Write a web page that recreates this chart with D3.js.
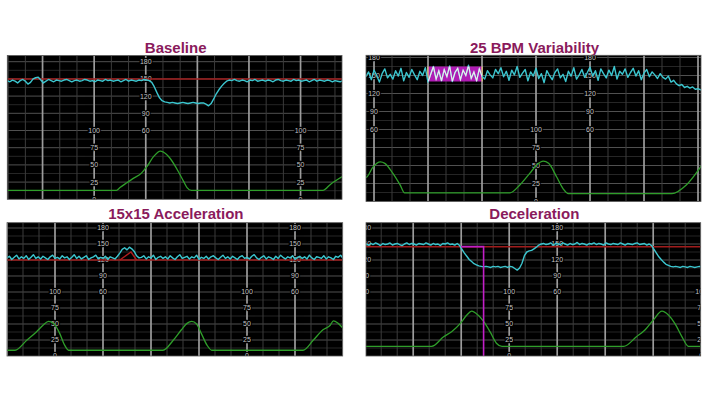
<!DOCTYPE html>
<meta charset="utf-8">
<style>
body { margin: 0; background: #fff; }
.title { font: bold 15px "Liberation Sans", Arial, sans-serif; fill: #8a1a5c; text-anchor: middle; }
.lbl { font: 7px "Liberation Sans", Arial, sans-serif; fill: #c4c4c4; text-anchor: middle;
       paint-order: stroke; stroke: #000; stroke-width: 2.5px; }
.lbls { opacity: 0.99; }
</style>
<svg width="708" height="398"></svg>
<script src="https://d3js.org/d3.v7.min.js"></script>
<script>
// FHR traces are sampled every 3 seconds from each panel's start time
var sampleStep = 3;
var fhrTicks = [60, 90, 120, 150, 180],
    uaTicks = [0, 25, 50, 75, 100];

// Baseline
var fhr1Start = 19;
var fhr1 = [147,145,148,146,143,147,149,146,141,144,150,152,153,148,143,146,149,147,145,148,
            147,146,148,149,147,145,147,148,146,147,149,148,146,147,145,148,147,146,149,147,
            148,146,147,148,145,147,149,146,148,147,146,148,147,149,148,147,
            144,136,126,117,112,110,109,108,109,108,107,108,109,108,107,108,109,108,107,108,
            108,106,103,107,115,124,131,137,142,146,148,147,
            149,147,146,148,147,145,148,147,149,146,147,148,146,148,147,145,148,149,147,146,
            148,147,146,149,147,148,146,147,148,145,147,149,146,148,147,146,148,147,145,147,
            146,145,147];
var ua1Time = [19, 60, 100, 146, 150, 158, 165, 175, 181, 189, 197, 200, 208, 218, 224, 228, 233, 240, 300, 386, 395, 410];
var ua1 =     [13, 13, 13,  13,  17,  24,  30,  38,  47,  62,  70,  69,  60,  40,  26,  17,  13,  13,  13,  13,  22,  34];
var baseline1 = 150;

// 25 BPM Variability
var fhr2Start = 51;
var fhr2 = [148,156,143,159,150,139,153,161,146,152,
            144,158,149,162,141,155,147,160,151,143,
            157,150,163,139,152,165,144,158,141,160,
            148,166,140,155,162,143,159,150,167,145,
            156,141,161,149,144,158,151,146,160,153,
            163,148,157,142,159,151,165,147,154,160,
            141,156,149,162,145,153,138,158,150,143,
            155,161,146,152,140,157,149,163,144,151,
            160,147,155,164,149,158,142,161,153,146,
            159,150,165,144,157,152,161,147,155,162,
            149,158,143,154,160,148,156,151,145,153,
            147,144,149,139,142,136,133,135,130,132,
            129,131,127,128,126,129];
var ua2Time = [51, 52, 59, 67, 72, 81, 89, 94, 150, 211, 222, 233, 241, 248, 254, 263, 270, 276, 330, 391, 407, 424];
var ua2 =     [33, 34, 48, 55, 53, 39, 23, 12, 12,  12,  23,  39,  51,  56,  53,  34,  18,  11,  11,  11,  23,  50];
var varBand = [140, 165], varTime = [120, 180];

// 15x15 Acceleration
var fhr3Start = 0;
var fhr3 = [124,127,121,125,129,122,126,123,128,121,125,130,123,126,122,127,124,121,126,129,
            123,125,122,128,124,126,121,125,130,123,127,122,125,128,121,124,126,129,122,125,
            123,127,121,126,124,122,
            127,133,140,143,139,144,141,136,128,124,
            125,128,122,126,124,129,121,125,127,123,126,122,128,124,121,126,130,123,125,127,
            122,126,124,129,121,125,123,127,122,126,128,124,121,125,129,123,126,122,127,124,
            121,126,128,123,125,122,127,130,124,121,125,128,122,126,124,121,127,123,129,125,
            122,126,124,128,121,125,127,123,126,122,129,124,121,126,125,123,128,122,126,124,
            121,127,125,129,123];
var ua3Time = [0, 10, 25, 37, 45, 52, 58, 66, 72, 77, 140, 195, 208, 218, 225, 231, 237, 243, 250, 256, 320, 370, 383, 395, 404, 408, 414, 421];
var ua3 =     [9, 9,  25, 38, 48, 54, 51, 35, 17, 9,  9,   9,   25,  41,  51,  54,  50,  35,  17,  9,   9,   9,   25,  41,  48,  55,  51,  42];
var baseline3 = 120;
var accelTime = [141, 155, 162], accelBpm = [120, 135, 120];

// Deceleration
var fhr4Start = 1;
var fhr4 = [150,148,151,149,152,150,147,151,149,150,152,148,150,151,149,147,150,152,149,151,
            150,148,151,150,149,152,150,148,151,149,150,147,151,150,152,149,150,148,151,
            147,140,133,127,121,117,113,111,109,108,107,108,107,106,108,107,108,106,107,108,
            106,108,107,104,101,105,114,128,135,137,138,141,144,148,150,
            151,149,150,152,148,151,150,149,152,150,148,151,149,150,153,149,151,150,148,151,
            150,152,149,151,150,148,152,150,149,151,150,149,152,150,148,151,150,149,151,152,
            149,150,151,148,150,
            147,140,133,126,121,116,112,110,108,107,108,107,106,108,107,106,108,107,106,107,
            108,107];
var ua4Time = [1, 50, 83, 98, 108, 119, 127, 133, 141, 148, 156, 164, 171, 250, 323, 339, 350, 360, 371, 379, 387, 396, 404, 421];
var ua4 =     [15, 15, 15, 30, 38, 51, 64, 70, 64, 54, 38, 20, 15, 15, 15, 30, 41, 56, 70, 64, 51, 30, 15, 15];
var baseline4 = 145;
var decelMarkTime = [120, 148], decelMarkBpm = 145;

// panel placement on the page
var panels = [
  {title: "Baseline", x: 7.3, y: 55.5, w: 334.7, h: 143.8, t0: 19, pps: 0.86, titleY: 52.5,
   upLbl: [180], loLbl: [120, 360], fhr: fhr1, fhrStart: fhr1Start, uaT: ua1Time, ua: ua1, base: baseline1},
  {title: "25 BPM Variability", x: 366, y: 55.3, w: 335, h: 146.2, t0: 51.1, pps: 0.9, titleY: 52.5,
   upLbl: [60, 300], loLbl: [0, 240], fhr: fhr2, fhrStart: fhr2Start, uaT: ua2Time, ua: ua2, band: true},
  {title: "15x15 Acceleration", x: 7, y: 222.7, w: 335.7, h: 133.3, t0: 0, pps: 0.8, titleY: 219.3,
   upLbl: [120, 360], loLbl: [60, 300], fhr: fhr3, fhrStart: fhr3Start, uaT: ua3Time, ua: ua3, base: baseline3, accel: true},
  {title: "Deceleration", x: 366, y: 222.7, w: 334.7, h: 133.3, t0: 1, pps: 0.8, titleY: 219.3,
   upLbl: [0, 240], loLbl: [180, 420], fhr: fhr4, fhrStart: fhr4Start, uaT: ua4Time, ua: ua4, base: baseline4, decel: true}
];

var svg = d3.select("svg");
var defs = svg.append("defs");

panels.forEach(function(p, i) {
  var x = d3.scaleLinear().domain([p.t0, p.t0 + p.w / p.pps]).range([0, p.w]),
      u = p.pps * 20,   // one grid unit = 20 s = 30 bpm = 25 units
      yF = d3.scaleLinear().domain([60, 180]).range([p.h - 4 * u, p.h - 8 * u]),
      yU = d3.scaleLinear().domain([0, 100]).range([p.h, p.h - 4 * u]);

  svg.append("text").attr("class", "title")
      .attr("x", p.x + p.w / 2 + 1).attr("y", p.titleY).text(p.title);

  defs.append("clipPath").attr("id", "clip" + i)
    .append("rect").attr("width", p.w).attr("height", p.h);

  var g = svg.append("g").attr("transform", "translate(" + p.x + "," + p.y + ")");
  g.append("rect").attr("width", p.w).attr("height", p.h).attr("fill", "#000");

  var inner = g.append("g").attr("clip-path", "url(#clip" + i + ")");

  // horizontal grid, every half unit
  inner.append("g").selectAll("line")
    .data(d3.range(12.5, yU.invert(0), 12.5))
    .join("line")
      .attr("x1", 0).attr("x2", p.w)
      .attr("y1", function(d) { return yU(d); })
      .attr("y2", function(d) { return yU(d); })
      .attr("stroke", function(d) { return d % 25 === 0 ? "#505050" : "#262626"; })
      .attr("stroke-width", 1);

  // vertical grid, every 20 s, heavier each minute
  var dom = x.domain();
  inner.append("g").selectAll("line")
    .data(d3.range(Math.ceil(dom[0] / 20) * 20, dom[1] + 20, 20))
    .join("line")
      .attr("x1", function(d) { return x(d); })
      .attr("x2", function(d) { return x(d); })
      .attr("y1", 0).attr("y2", p.h)
      .attr("stroke", function(d) { return d % 60 === 0 ? "#9c9c9c" : "#3c3c3c"; })
      .attr("stroke-width", function(d) { return d % 60 === 0 ? 1.7 : 1; });

  // scale labels along the minute lines
  var lbls = inner.append("g").attr("class", "lbls");
  p.upLbl.forEach(function(t) {
    lbls.append("g").selectAll("text").data(fhrTicks).join("text")
      .attr("class", "lbl")
      .attr("x", x(t)).attr("y", function(d) { return yF(d); })
      .attr("dy", "0.35em").text(function(d) { return d; });
  });
  p.loLbl.forEach(function(t) {
    lbls.append("g").selectAll("text").data(uaTicks).join("text")
      .attr("class", "lbl")
      .attr("x", x(t)).attr("y", function(d) { return yU(d); })
      .attr("dy", "0.35em").text(function(d) { return d; });
  });

  if (p.base) {
    inner.append("line")
      .attr("x1", 0).attr("x2", p.w)
      .attr("y1", yF(p.base)).attr("y2", yF(p.base))
      .attr("stroke", "#a01c1c").attr("stroke-width", 1.5);
  }

  // uterine activity
  inner.append("path")
    .datum(d3.zip(p.uaT, p.ua))
    .attr("fill", "none")
    .attr("stroke", "#2f9e2a")
    .attr("stroke-width", 1.3)
    .attr("d", d3.line()
      .x(function(d) { return x(d[0]); })
      .y(function(d) { return yU(d[1]); })
      .curve(d3.curveMonotoneX));

  var fhrLine = d3.line()
    .x(function(d, j) { return x(p.fhrStart + j * sampleStep); })
    .y(function(d) { return yF(d); });

  if (p.band) {
    var bx0 = x(varTime[0]), bx1 = x(varTime[1]);
    inner.append("rect")
      .attr("x", bx0).attr("width", bx1 - bx0)
      .attr("y", yF(varBand[1])).attr("height", yF(varBand[0]) - yF(varBand[1]))
      .attr("fill", "#b01cb4");
    [bx0, bx1].forEach(function(bx) {
      inner.append("line").attr("x1", bx).attr("x2", bx)
        .attr("y1", yF(varBand[1])).attr("y2", yF(varBand[0]))
        .attr("stroke", "#e8d878").attr("stroke-width", 1.2);
    });
  }

  inner.append("path")
    .datum(p.fhr)
    .attr("fill", "none")
    .attr("stroke", "#3cc6cf")
    .attr("stroke-width", 1.4)
    .attr("stroke-linejoin", "round")
    .attr("d", fhrLine);

  if (p.band) {
    // trace inside the highlighted minute is drawn pale
    defs.append("clipPath").attr("id", "band" + i)
      .append("rect")
        .attr("x", x(varTime[0])).attr("width", x(varTime[1]) - x(varTime[0]))
        .attr("y", yF(varBand[1])).attr("height", yF(varBand[0]) - yF(varBand[1]));
    inner.append("path")
      .datum(p.fhr)
      .attr("clip-path", "url(#band" + i + ")")
      .attr("fill", "none")
      .attr("stroke", "#f4e4ee")
      .attr("stroke-width", 1.2)
      .attr("d", fhrLine);
  }

  if (p.accel) {
    inner.append("path")
      .datum(d3.zip(accelTime, accelBpm))
      .attr("fill", "none")
      .attr("stroke", "#b01e1e")
      .attr("stroke-width", 1.4)
      .attr("d", d3.line()
        .x(function(d) { return x(d[0]); })
        .y(function(d) { return yF(d[1]); }));
  }

  if (p.decel) {
    var mx0 = x(decelMarkTime[0]), mx1 = x(decelMarkTime[1]), my = yF(decelMarkBpm);
    inner.append("path")
      .attr("fill", "none")
      .attr("stroke", "#c21fc8")
      .attr("stroke-width", 1.6)
      .attr("d", "M" + mx0 + "," + my + "H" + mx1 + "V" + yU(0));
  }

  g.append("rect").attr("width", p.w).attr("height", p.h)
    .attr("fill", "none").attr("stroke", "#5a5a5a").attr("stroke-width", 0.8);
});
</script>
